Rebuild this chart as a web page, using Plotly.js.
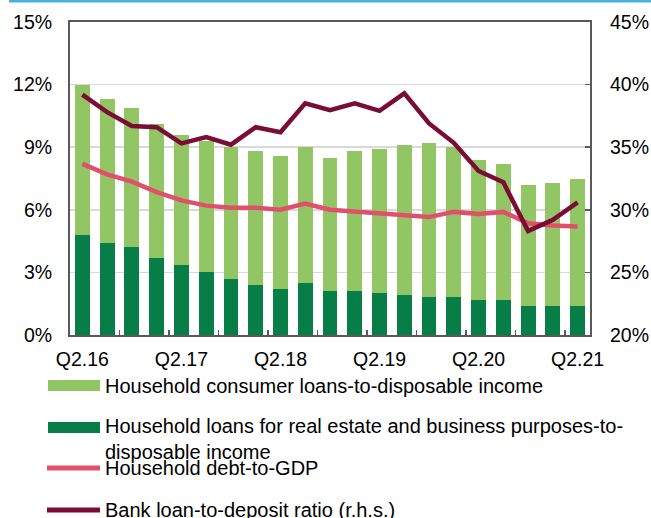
<!DOCTYPE html>
<html>
<head>
<meta charset="utf-8">
<script src="https://cdn.plot.ly/plotly-3.0.1.min.js"></script>
<style>html,body{margin:0;padding:0;background:#fff;}#chart{width:651px;height:518px;}</style>
</head>
<body>
<div id="chart"></div>
<script>
// Quarters (categories)
const quarters = ['Q2.16','Q3.16','Q4.16','Q1.17','Q2.17','Q3.17','Q4.17','Q1.18','Q2.18','Q3.18','Q4.18',
                  'Q1.19','Q2.19','Q3.19','Q4.19','Q1.20','Q2.20','Q3.20','Q4.20','Q1.21','Q2.21'];
const tickLabels = ['Q2.16','Q2.17','Q2.18','Q2.19','Q2.20','Q2.21'];

// Household loans for real estate and business purposes-to-disposable income (%)
const realEstateLoans = [4.8,4.4,4.2,3.7,3.35,3.0,2.7,2.4,2.2,2.5,2.1,2.1,2.0,1.9,1.8,1.8,1.7,1.7,1.4,1.4,1.4];
// Household consumer loans-to-disposable income (%), stacked on top
const consumerLoans = [7.2,6.9,6.7,6.4,6.25,6.3,6.3,6.4,6.4,6.5,6.4,6.7,6.9,7.2,7.4,7.2,6.7,6.5,5.8,5.9,6.1];
// Household debt-to-GDP (%)
const debtToGDP = [8.2,7.7,7.35,6.85,6.45,6.2,6.1,6.1,6.0,6.3,6.0,5.9,5.8,5.7,5.65,5.9,5.8,5.9,5.35,5.25,5.2];
// Bank loan-to-deposit ratio (%, r.h.s.)
const loanToDeposit = [39.2,37.8,36.7,36.6,35.3,35.8,35.2,36.6,36.2,38.5,37.95,38.5,37.9,39.3,36.9,35.35,33.1,32.2,28.3,29.2,30.6];

const xIdx = quarters.map((q, i) => i);
const labelIdx = tickLabels.map(t => quarters.indexOf(t));
const boundaryTicks = [];
for (let i = 1; i < quarters.length - 1; i += 2) boundaryTicks.push(i + 0.5);

const C = {light:'#92C665', dark:'#077D48', pink:'#E1506A', maroon:'#7A0C35', axis:'#595959', grid:'#D9D9D9'};

const traces = [
  {type:'bar', x:xIdx, y:realEstateLoans, marker:{color:C.dark}, name:'Household loans for real estate and business purposes-to-disposable income', hoverinfo:'y'},
  {type:'bar', x:xIdx, y:consumerLoans, marker:{color:C.light}, name:'Household consumer loans-to-disposable income', hoverinfo:'y'},
  {type:'scatter', mode:'lines', x:xIdx, y:debtToGDP, line:{color:C.pink, width:4.5}, name:'Household debt-to-GDP'},
  {type:'scatter', mode:'lines', x:xIdx, y:loanToDeposit, yaxis:'y2', line:{color:C.maroon, width:4.5}, name:'Bank loan-to-deposit ratio (r.h.s.)'}
];

// plot area: x 70..590, y 22..335 (px)
const L = 70, R = 590, T = 22, B = 335;
const px = v => (v - L) / (R - L);
const py = v => (B - v) / (B - T);

const legendItems = [
  {kind:'rect', color:C.light, y:385.5, ty:386, text:'Household consumer loans-to-disposable income'},
  {kind:'rect', color:C.dark, y:427.5, ty:439, text:'Household loans for real estate and business purposes-to-<br>disposable income'},
  {kind:'line', color:C.pink, y:468, ty:468, text:'Household debt-to-GDP'},
  {kind:'line', color:C.maroon, y:510, ty:510, text:'Bank loan-to-deposit ratio (r.h.s.)'}
];

const shapes = [
  {type:'line', xref:'paper', yref:'paper', x0:px(9), x1:px(651), y0:py(1), y1:py(1), line:{color:'#4BAFE3', width:3}}
];
const annotations = [];
legendItems.forEach(it => {
  if (it.kind === 'rect') {
    shapes.push({type:'rect', xref:'paper', yref:'paper', x0:px(48), x1:px(100), y0:py(it.y-5.5), y1:py(it.y+5.5), fillcolor:it.color, line:{width:0}});
  } else {
    shapes.push({type:'line', xref:'paper', yref:'paper', x0:px(47), x1:px(100), y0:py(it.y), y1:py(it.y), line:{color:it.color, width:5}});
  }
  annotations.push({xref:'paper', yref:'paper', x:px(103), y:py(it.ty), xanchor:'left', yanchor:'middle', align:'left', showarrow:false, text:it.text, font:{size:20, color:'#000'}});
});

const layout = {
  width:651, height:518,
  margin:{l:L, r:651-R, t:T, b:518-B, pad:0},
  paper_bgcolor:'#fff', plot_bgcolor:'#fff',
  font:{family:'"Liberation Sans", Arial, sans-serif', size:19.5, color:'#000'},
  barmode:'stack', bargap:0.4,
  showlegend:false,
  xaxis:{
    range:[-0.5, quarters.length - 0.5], tickmode:'array', tickvals:labelIdx, ticktext:tickLabels,
    ticks:'', showgrid:false, zeroline:false, showline:true, linecolor:C.axis, linewidth:2, mirror:true,
    ticklabelstandoff:6,
    minor:{tickmode:'array', tickvals:boundaryTicks, ticks:'inside', ticklen:5, tickwidth:1.5, tickcolor:C.axis, showgrid:false},
    fixedrange:true
  },
  yaxis:{
    range:[0,15], tickmode:'linear', tick0:0, dtick:3, ticksuffix:'%',
    showgrid:true, gridcolor:C.grid, gridwidth:1.5, zeroline:false,
    showline:true, linecolor:C.axis, linewidth:2, mirror:true, ticks:'', ticklabelstandoff:12, fixedrange:true
  },
  yaxis2:{
    range:[20,45], tickmode:'linear', tick0:20, dtick:5, ticksuffix:'%', overlaying:'y', side:'right',
    showgrid:false, zeroline:false, showline:false, ticks:'inside', ticklen:5, tickwidth:1.5, tickcolor:C.axis,
    ticklabelstandoff:19, fixedrange:true
  },
  shapes:shapes,
  annotations:annotations
};

Plotly.newPlot('chart', traces, layout, {displayModeBar:false, staticPlot:true});
</script>
</body>
</html>
